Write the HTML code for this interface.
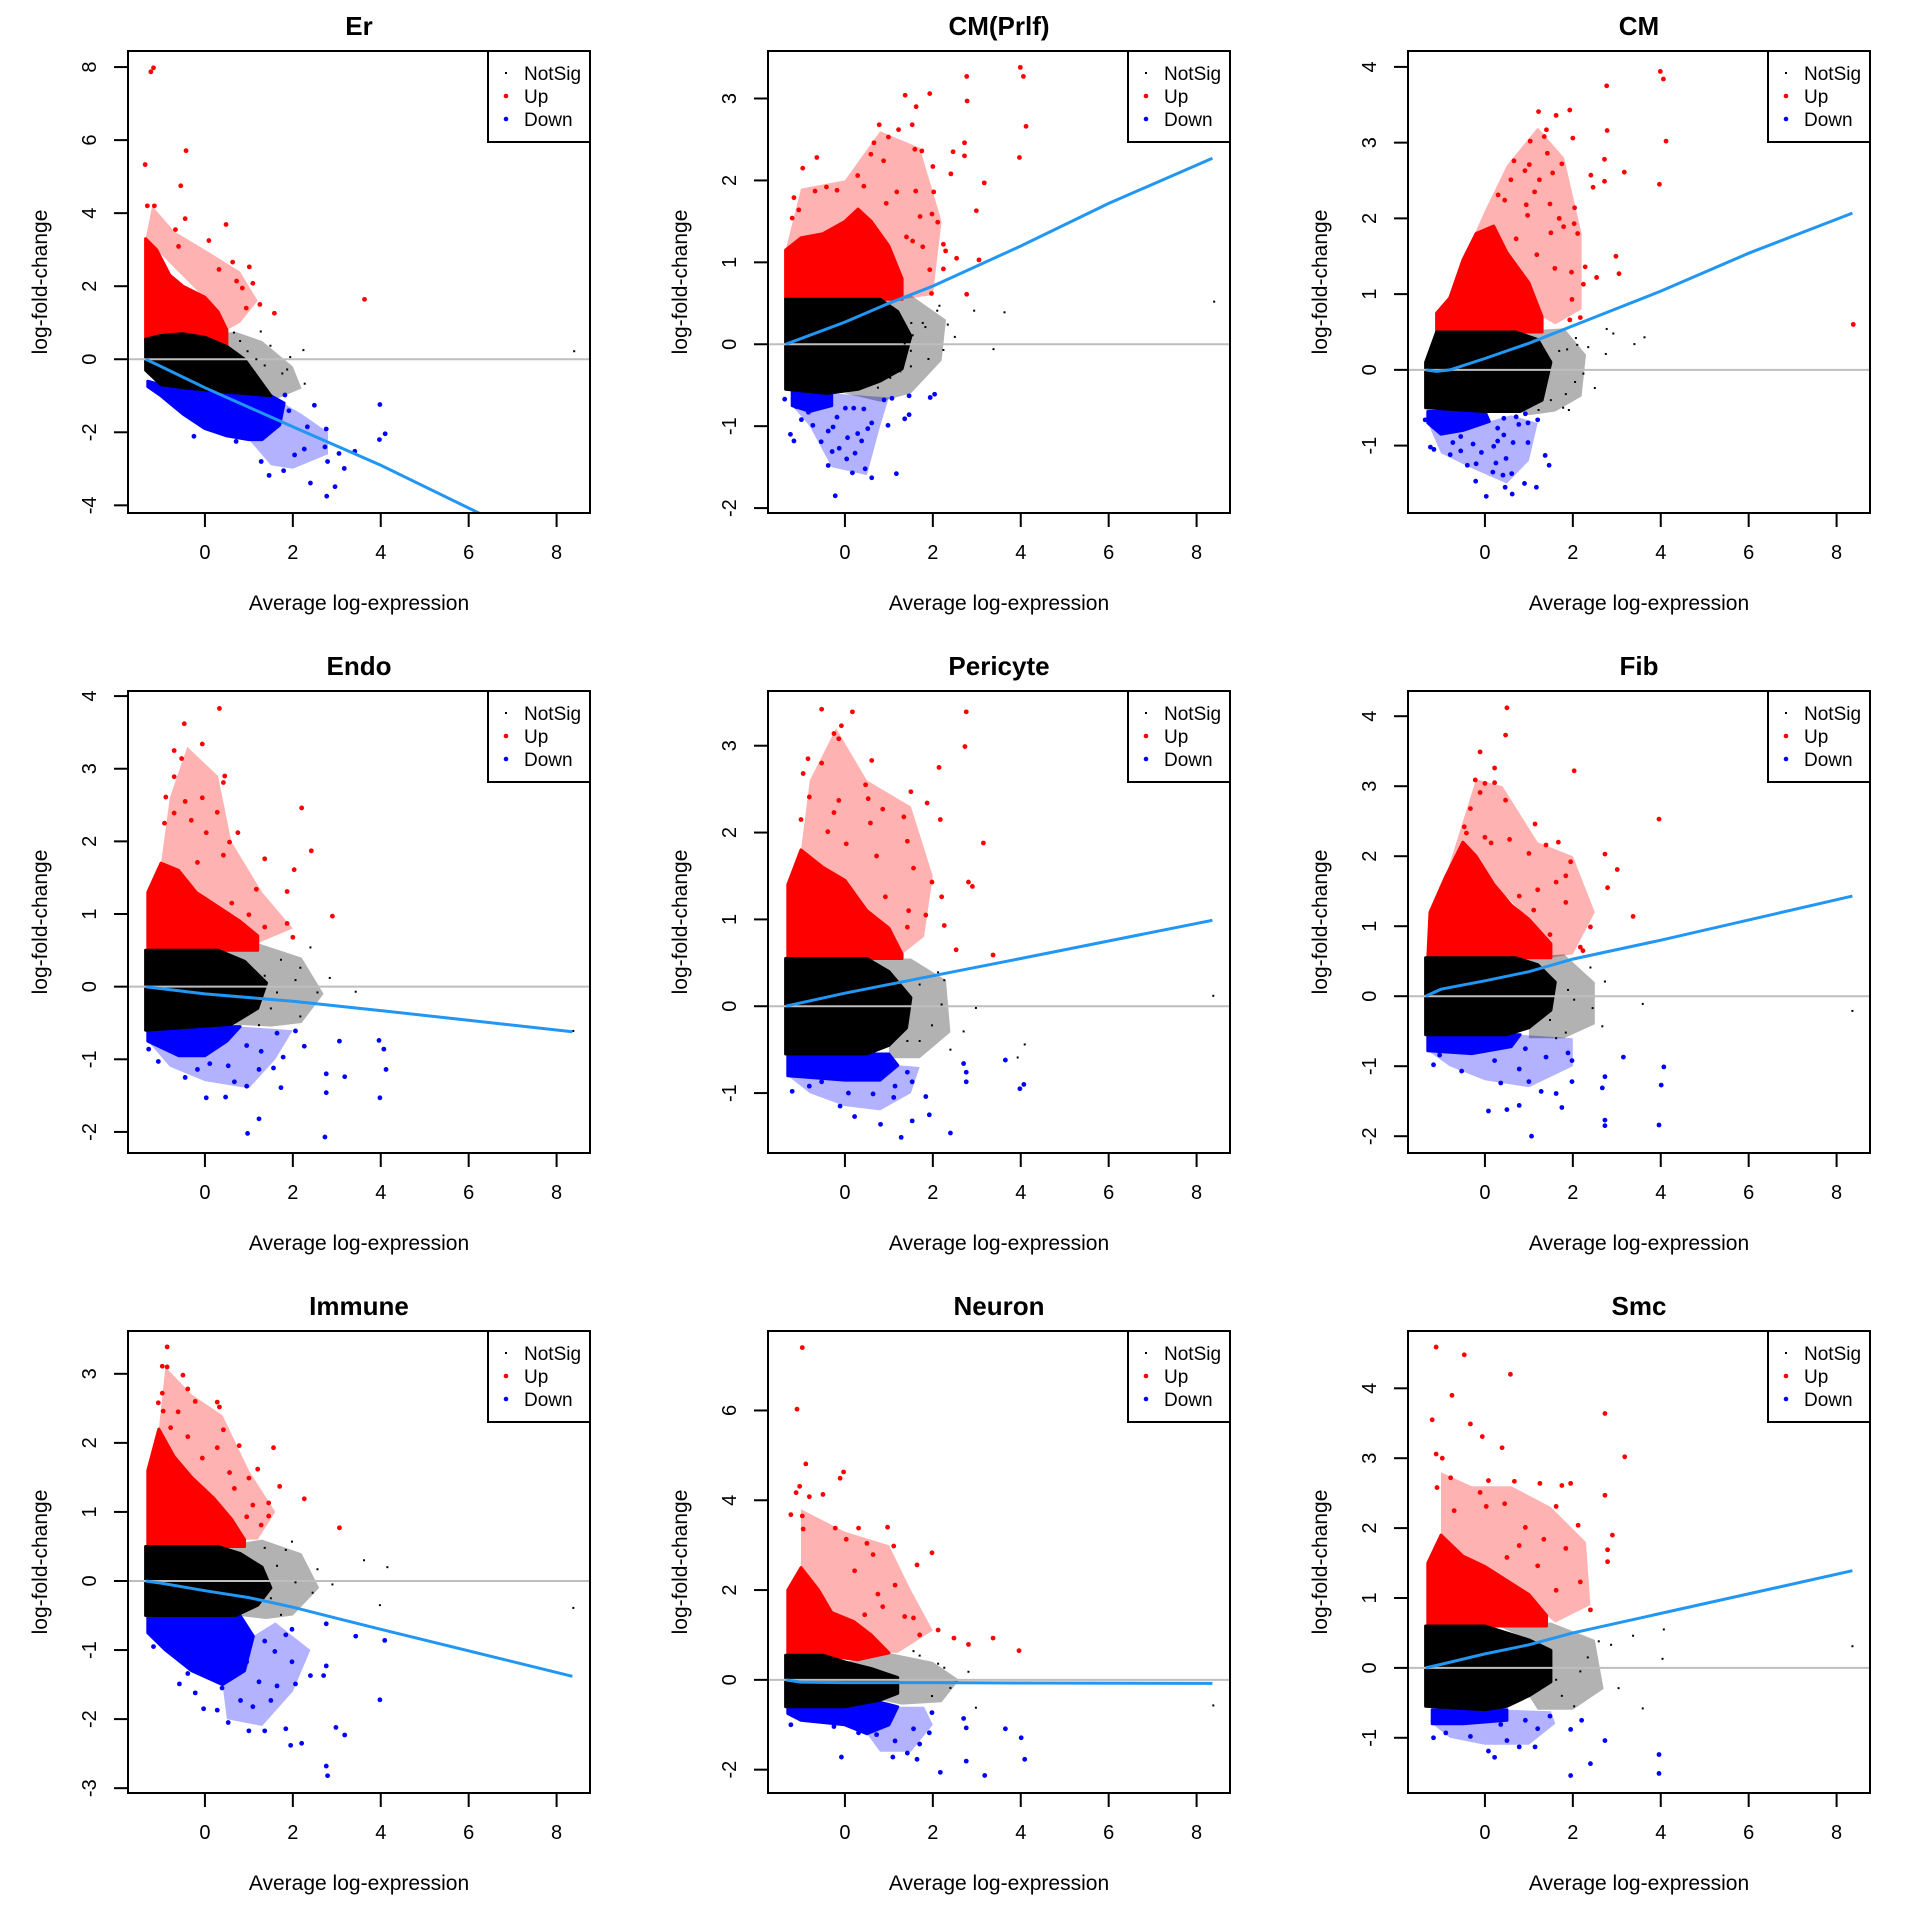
<!DOCTYPE html>
<html><head><meta charset="utf-8"><style>
html,body{margin:0;padding:0;background:#fff;}
svg{display:block;font-family:"Liberation Sans",Arial,sans-serif;}
</style></head><body>
<svg id="fig" width="1920" height="1920" viewBox="0 0 1920 1920" xmlns="http://www.w3.org/2000/svg"></svg>
<script>
// ---------- shared axis data ----------
const xTicks = [0, 2, 4, 6, 8];
const xDomain = [-1.75, 8.76];
const titles = ["Er","CM(Prlf)","CM","Endo","Pericyte","Fib","Immune","Neuron","Smc"];
const yDomains = [[-4.21,8.44],[-2.06,3.58],[-1.89,4.21],[-2.29,4.07],[-1.69,3.63],[-2.24,4.36],[-3.07,3.62],[-2.52,7.77],[-1.79,4.82]];
const yTicks = [[-4,-2,0,2,4,6,8],[-2,-1,0,1,2,3],[-1,0,1,2,3,4],[-2,-1,0,1,2,3,4],[-1,0,1,2,3],[-2,-1,0,1,2,3,4],[-3,-2,-1,0,1,2,3],[-2,0,2,4,6],[-1,0,1,2,3,4]];
const legendLabels = ["NotSig","Up","Down"];

// ---------- Er ----------
const erCore = [[-1.35,0.55],[-1,0.65],[-0.5,0.7],[0,0.6],[0.5,0.35],[0.9,0],[1.2,-0.5],[1.5,-1.0],[1,-0.95],[0.5,-0.9],[0,-0.84],[-0.5,-0.78],[-1,-0.7],[-1.35,-0.3]];
const erNotFringe = [[-0.2,0.65],[0.7,0.75],[1.3,0.5],[2.0,-0.2],[2.2,-0.8],[1.6,-1.1],[1.2,-0.5],[0.9,0],[0.5,0.35]];
const erUpEnv = [[-1.35,0.5],[-1.35,3.3],[-1.1,3.0],[-0.8,2.3],[-0.5,2.0],[0,1.7],[0.3,1.3],[0.5,0.8],[0.5,0.4],[0,0.6],[-0.5,0.7],[-1,0.65]];
const erUpFringe = [[-1.35,3.3],[-1.2,4.2],[-0.7,3.5],[0,3.0],[0.8,2.4],[1.2,1.6],[0.8,1.0],[0.5,0.8],[0.3,1.3]];
const erDownEnv = [[-1.3,-0.6],[-1,-0.7],[-0.5,-0.78],[0,-0.84],[0.5,-0.9],[1,-0.95],[1.5,-1.0],[1.8,-1.2],[1.7,-1.8],[1.3,-2.2],[1,-2.2],[0.5,-2.1],[0,-1.9],[-0.5,-1.5],[-1,-1.0],[-1.3,-0.75]];
const erDownFringe = [[1.5,-1.0],[2.2,-1.5],[2.8,-2.0],[2.8,-2.6],[2.0,-3.0],[1.5,-2.9],[1.0,-2.2],[1.7,-1.8]];
const erUp = [[-1.23,7.87],[-1.17,7.98],[-1.36,5.33],[-0.43,5.71],[-0.55,4.75],[-1.31,4.2],[-1.15,4.2],[-0.45,3.85],[0.48,3.69],[-0.67,3.55],[-0.6,3.09],[0.09,3.25],[0.63,2.66],[1.01,2.53],[0.72,2.14],[1.09,2.08],[0.85,1.95],[1.25,1.5],[1.58,1.26],[3.63,1.64],[0.94,1.4],[0.32,2.46]];
const erDown = [[2.49,-1.26],[3.98,-1.24],[4.1,-2.04],[3.97,-2.2],[3.41,-2.52],[3.17,-2.99],[3.05,-2.58],[2.79,-2.8],[2.76,-1.91],[2.73,-2.4],[2.77,-3.75],[2.96,-3.49],[2.4,-3.39],[1.79,-3.05],[1.46,-3.18],[1.28,-2.8],[2.04,-2.62],[2.33,-1.85],[1.91,-1.41],[1.82,-0.98],[1.54,-1.17],[2.26,-2.46],[-0.25,-2.11],[0.71,-2.25]];
const erNot = [[8.4,0.22],[2.24,0.25],[2.27,-0.67],[1.27,0.76],[1.49,0.37],[1.87,-0.28],[1.76,-0.39],[1.94,0.06],[1.36,-0.17],[1.12,-0.36],[0.97,0.22],[0.66,0.73],[0.8,0.5],[1.17,0],[0.43,0.22]];
const erTrend = [[-1.35,0],[-1,-0.2],[0,-0.78],[2,-1.85],[4,-2.9],[6.3,-4.25]];

// ---------- CM(Prlf) ----------
const prlfCore = [[-1.35,0.55],[0.8,0.55],[1.2,0.4],[1.5,0.1],[1.3,-0.3],[0.8,-0.45],[0.3,-0.55],[-0.4,-0.6],[-1.35,-0.55]];
const prlfNotFringe = [[0.5,0.55],[1.5,0.6],[2.3,0.3],[2.2,-0.2],[1.5,-0.6],[0.8,-0.7],[0,-0.6],[0.8,-0.45],[1.3,0]];
const prlfUpEnv = [[-1.35,0.55],[-1.35,1.15],[-1,1.3],[-0.5,1.35],[0,1.5],[0.3,1.65],[0.6,1.5],[1.0,1.2],[1.3,0.8],[1.3,0.55]];
const prlfUpFringe = [[-1.35,1.15],[-1.0,1.9],[0,2.0],[0.8,2.6],[1.7,2.4],[2.2,1.5],[2.0,0.6],[1.3,0.55],[1.3,0.8],[0.6,1.5],[0,1.5]];
const prlfDownEnv = [[-1.2,-0.58],[-0.3,-0.58],[-0.3,-0.75],[-0.8,-0.82],[-1.2,-0.75]];
const prlfDownFringe = [[-1.2,-0.75],[-0.8,-1.0],[-0.3,-1.5],[0.5,-1.6],[0.8,-1.0],[1.0,-0.65],[-0.3,-0.6],[-0.3,-0.75]];
const prlfUp = [[3.99,3.38],[4.06,3.27],[4.12,2.66],[3.97,2.28],[2.77,3.27],[2.78,2.97],[2.72,2.46],[2.72,2.3],[1.37,3.04],[1.93,3.06],[1.62,2.9],[0.78,2.68],[1.53,2.68],[1.22,2.62],[0.99,2.53],[0.66,2.46],[0.59,2.32],[-0.64,2.28],[-0.96,2.15],[0.88,2.24],[1.59,2.38],[1.75,2.36],[2.46,2.35],[2.41,2.08],[2.0,2.17],[3.17,1.97],[2.99,1.63],[3.05,1.03],[2.54,1.05],[2.77,0.61],[1.61,1.87],[2.02,1.86],[1.18,1.86],[0.29,2.06],[-0.42,1.92],[-0.68,1.87],[-1.16,1.79],[-1.05,1.64],[-1.2,1.54],[-0.18,1.88],[0.43,1.93],[0.94,1.72],[2.24,1.22],[2.29,1.14],[2.24,0.92],[1.97,0.62],[1.93,0.91],[2.11,1.49],[1.71,1.56],[1.98,1.59],[1.4,1.31],[1.77,1.19],[1.54,1.26]];
const prlfDown = [[-0.22,-1.85],[0.61,-1.63],[1.17,-1.58],[0.17,-1.57],[0.46,-1.52],[-0.38,-1.48],[-0.29,-1.31],[-0.13,-1.27],[0.04,-1.4],[0.23,-1.33],[0.38,-1.18],[0.06,-1.14],[0.29,-1.09],[0.52,-1.03],[0.61,-0.96],[0.98,-0.99],[1.36,-0.91],[1.46,-0.86],[1.46,-0.63],[1.94,-0.65],[2.04,-0.61],[1.07,-0.66],[0.89,-0.68],[-1.24,-1.1],[-1.16,-1.18],[-0.54,-1.19],[-0.38,-1.06],[-0.99,-0.92],[-0.73,-0.99],[-1.37,-0.67],[-1.11,-0.76],[-0.83,-0.83],[-0.18,-0.89],[0.01,-0.78],[0.2,-0.78],[0.43,-0.79],[-0.27,-1.01]];
const prlfNot = [[8.4,0.52],[3.63,0.39],[2.94,0.41],[3.38,-0.06],[2.24,-0.07],[1.9,-0.18],[2.34,0.24],[2.5,0.09],[2.1,0.41],[2.15,0.47],[1.83,0.21],[1.51,0.26],[1.5,-0.08],[1.36,0.01],[1.17,-0.13],[1.26,-0.33],[1.03,-0.41],[1.5,-0.27],[1.54,0.11],[0.75,-0.53],[0.47,-0.48],[0.85,0.09],[1.03,0.21],[1.77,0.26]];
const prlfTrend = [[-1.35,0],[0,0.27],[1,0.5],[2,0.71],[4,1.2],[6,1.72],[8.36,2.27]];

// ---------- CM ----------
const cmCore = [[-1.35,0.1],[-1.1,0.5],[0.7,0.5],[1.2,0.4],[1.5,0.1],[1.3,-0.4],[0.8,-0.55],[0,-0.55],[-1.35,-0.5]];
const cmNotFringe = [[0.5,0.5],[1.8,0.55],[2.3,0.2],[2.2,-0.35],[1.6,-0.55],[1,-0.6],[0.8,-0.55],[1.3,-0.4],[1.5,0.1],[1.2,0.4]];
const cmUpEnv = [[-1.1,0.5],[-1.1,0.75],[-0.8,0.95],[-0.5,1.45],[-0.2,1.8],[0.2,1.9],[0.5,1.55],[1.0,1.15],[1.3,0.7],[1.3,0.5]];
const cmUpFringe = [[-0.5,1.45],[0,2.1],[0.5,2.7],[1.2,3.2],[1.8,2.8],[2.2,1.8],[2.2,0.8],[1.6,0.6],[1.3,0.7],[1.0,1.15],[0.5,1.55]];
const cmDownEnv = [[-1.3,-0.55],[0,-0.55],[0.1,-0.68],[-0.5,-0.8],[-1.0,-0.85],[-1.3,-0.7]];
const cmDownFringe = [[-1.3,-0.7],[-1,-1.1],[-0.3,-1.3],[0.5,-1.5],[1.0,-1.2],[1.2,-0.7],[0.6,-0.6],[0.1,-0.68]];
const cmUp = [[3.99,3.94],[4.06,3.84],[4.12,3.02],[3.97,2.45],[2.77,3.75],[2.78,3.16],[2.72,2.78],[2.72,2.49],[1.22,3.41],[1.62,3.36],[1.93,3.43],[1.4,3.17],[1.35,3.08],[1.03,3.02],[2.0,3.06],[1.42,2.86],[1.75,2.72],[0.66,2.76],[1.01,2.71],[0.91,2.63],[1.54,2.6],[2.41,2.57],[3.17,2.61],[2.46,2.41],[1.24,2.51],[1.13,2.35],[0.59,2.51],[0.3,2.31],[0.45,2.24],[0.94,2.18],[1.48,2.19],[2.04,2.14],[0.97,2.04],[1.69,2.0],[2.03,1.93],[2.11,1.8],[1.79,1.89],[2.98,1.5],[3.05,1.27],[2.54,1.22],[2.28,1.36],[2.24,1.13],[1.97,1.29],[1.98,0.93],[1.93,0.66],[2.17,0.69],[8.38,0.6],[1.5,1.81],[0.71,1.73],[1.18,1.52],[1.59,1.34]];
const cmDown = [[0.03,-1.67],[0.62,-1.64],[0.46,-1.55],[1.17,-1.55],[0.9,-1.5],[-0.21,-1.47],[0.18,-1.35],[0.41,-1.39],[0.61,-1.37],[-0.2,-1.24],[-0.4,-1.26],[0.25,-1.23],[0.48,-1.17],[1.46,-1.26],[1.37,-1.13],[-0.79,-1.12],[-0.55,-1.07],[-1.24,-1.02],[-1.16,-1.05],[-0.08,-1.09],[0.2,-1.01],[-0.27,-0.98],[0.98,-0.96],[0.64,-0.96],[0.29,-0.94],[0.43,-0.86],[0.29,-0.77],[0.77,-0.72],[0.98,-0.7],[1.2,-0.66],[0.92,-0.58],[0.71,-0.62],[0.43,-0.64],[-1.36,-0.66],[-0.99,-0.82],[-0.73,-0.96],[-0.55,-0.88]];
const cmNot = [[3.4,0.34],[3.63,0.43],[2.77,0.54],[2.92,0.48],[2.75,0.21],[2.5,-0.24],[2.24,-0.05],[2.35,0.3],[2.1,0.33],[1.91,-0.53],[1.78,-0.5],[1.84,-0.32],[2.05,-0.16],[1.5,-0.4],[1.31,-0.13],[1.17,-0.05],[1.5,0.11],[1.69,0.25],[1.22,-0.53],[1.03,-0.32],[0.85,-0.45],[1.87,0.27],[2.07,0.42]];
const cmTrend = [[-1.35,0],[-1.1,-0.02],[-0.8,0],[0,0.15],[1,0.35],[2,0.58],[4,1.04],[6,1.54],[8.36,2.07]];

// ---------- Endo ----------
const endoCore = [[-1.35,0.5],[0.3,0.5],[0.9,0.35],[1.4,0.05],[1.2,-0.3],[0.6,-0.52],[-1.35,-0.6]];
const endoNotFringe = [[0.3,0.5],[1.2,0.6],[2.2,0.4],[2.7,-0.1],[2.2,-0.5],[1.5,-0.55],[0.6,-0.52],[1.2,-0.3],[1.4,0.05]];
const endoUpEnv = [[-1.3,0.5],[-1.3,1.3],[-1.0,1.7],[-0.6,1.6],[-0.2,1.3],[0.3,1.1],[0.8,0.9],[1.2,0.7],[1.2,0.5]];
const endoUpFringe = [[-1.0,1.7],[-0.8,2.6],[-0.4,3.3],[0.3,2.9],[0.6,2.0],[1.3,1.3],[2.0,0.8],[1.2,0.6],[0.8,0.9],[0.3,1.1]];
const endoDownEnv = [[-1.3,-0.55],[0.8,-0.55],[0.5,-0.75],[0,-0.95],[-0.6,-0.95],[-1.3,-0.75]];
const endoDownFringe = [[-1.3,-0.75],[-0.8,-1.1],[0,-1.3],[1.0,-1.4],[1.6,-1.0],[2.0,-0.6],[0.8,-0.55],[0.5,-0.75]];
const endoUp = [[0.33,3.83],[-0.47,3.62],[-0.06,3.34],[-0.7,3.25],[-0.53,3.14],[-0.7,2.89],[0.45,2.9],[0.42,2.81],[-0.89,2.61],[-0.45,2.55],[-0.06,2.6],[-0.7,2.39],[0.28,2.4],[2.2,2.46],[-0.31,2.29],[-0.92,2.25],[0.75,2.12],[0.03,2.12],[0.56,1.99],[2.42,1.87],[1.36,1.76],[2.03,1.61],[0.42,1.81],[-0.17,1.71],[1.17,1.34],[1.87,1.31],[0.61,1.15],[2.9,0.97],[1.87,0.87],[2.0,0.68],[1.36,0.82],[1.0,0.99],[0.95,0.76]];
const endoDown = [[2.73,-2.07],[0.97,-2.02],[1.23,-1.82],[0.03,-1.53],[0.47,-1.52],[3.98,-1.53],[2.76,-1.46],[4.12,-1.14],[3.18,-1.24],[2.76,-1.2],[4.07,-0.86],[3.96,-0.74],[3.06,-0.75],[2.26,-0.82],[1.73,-1.39],[0.95,-1.37],[0.67,-1.31],[-0.45,-1.25],[1.56,-1.12],[1.23,-1.14],[1.78,-0.97],[0.53,-1.09],[-0.17,-1.14],[0.11,-1.06],[1.28,-0.89],[0.95,-0.81],[1.64,-0.64],[2.06,-0.61],[-1.28,-0.86],[-1.06,-1.03]];
const endoNot = [[3.43,-0.07],[2.84,0.12],[2.56,-0.08],[2.4,0.54],[2.17,0.26],[2.06,0.09],[1.78,-0.19],[2.17,-0.41],[1.5,-0.3],[1.64,-0.08],[1.36,0.15],[1.73,0.37],[1.23,-0.53],[8.38,-0.61]];
const endoTrend = [[-1.35,0],[0,-0.1],[2,-0.2],[4,-0.33],[8.36,-0.62]];

// ---------- Pericyte ----------
const periCore = [[-1.35,0.55],[0.5,0.55],[1.0,0.4],[1.5,0.1],[1.4,-0.25],[1.0,-0.45],[0.5,-0.55],[-1.35,-0.55]];
const periNotFringe = [[0.5,0.55],[1.5,0.55],[2.3,0.3],[2.4,-0.3],[1.7,-0.6],[1.0,-0.6],[1.0,-0.45],[1.4,-0.25],[1.5,0.1]];
const periUpEnv = [[-1.3,0.55],[-1.3,1.4],[-1.0,1.8],[-0.5,1.6],[0,1.45],[0.5,1.1],[1.0,0.9],[1.3,0.6],[1.3,0.55]];
const periUpFringe = [[-1.0,1.8],[-0.8,2.6],[-0.2,3.2],[0.5,2.6],[1.5,2.3],[2.0,1.5],[1.8,0.8],[1.3,0.6],[1.0,0.9],[0.5,1.1],[0,1.45],[-0.5,1.6]];
const periDownEnv = [[-1.3,-0.55],[1.0,-0.55],[1.2,-0.68],[0.8,-0.85],[0,-0.85],[-1.3,-0.8]];
const periDownFringe = [[-1.3,-0.8],[-0.8,-1.0],[0,-1.15],[0.8,-1.2],[1.5,-1.0],[1.7,-0.7],[1.2,-0.68],[0.8,-0.85]];
const periUp = [[-0.53,3.42],[0.17,3.39],[2.76,3.39],[-0.08,3.23],[-0.25,3.14],[-0.14,3.08],[2.73,2.99],[-0.84,2.85],[-0.53,2.8],[0.61,2.83],[2.14,2.75],[-0.95,2.68],[0.47,2.55],[1.5,2.47],[-0.81,2.41],[0.53,2.39],[-0.14,2.37],[1.87,2.34],[0.86,2.27],[-0.25,2.23],[-1.0,2.15],[2.17,2.15],[0.58,2.11],[1.34,2.18],[-0.39,2.01],[3.15,1.88],[1.42,1.9],[0.03,1.87],[0.72,1.73],[1.56,1.59],[1.98,1.43],[2.81,1.43],[2.9,1.38],[0.92,1.26],[2.2,1.26],[1.45,1.1],[2.26,0.93],[2.53,0.65],[3.37,0.59],[1.84,1.05],[1.42,0.91],[0.31,1.0],[0.86,0.72]];
const periDown = [[1.28,-1.51],[2.4,-1.46],[0.81,-1.36],[1.53,-1.32],[0.22,-1.27],[1.92,-1.25],[-0.11,-1.15],[0.08,-1.0],[0.64,-1.01],[1.11,-1.05],[1.84,-1.04],[-1.2,-0.98],[-0.81,-0.92],[3.98,-0.95],[4.07,-0.9],[3.65,-0.62],[2.76,-0.87],[2.76,-0.76],[2.7,-0.66],[1.53,-0.87],[1.14,-0.92],[1.42,-0.76],[0.92,-0.71],[0.45,-0.83],[-0.53,-0.87],[0.03,-0.76]];
const periNot = [[8.38,0.12],[4.09,-0.44],[3.93,-0.59],[2.98,-0.02],[2.2,0.02],[2.7,-0.29],[1.98,-0.22],[2.4,-0.5],[1.7,-0.4],[2.12,0.39],[1.7,0.25],[1.42,-0.4],[2.26,0.3]];
const periTrend = [[-1.35,0],[0,0.15],[2,0.35],[4,0.55],[8.36,0.99]];

// ---------- Fib ----------
const fibCore = [[-1.35,0.55],[0.7,0.55],[1.2,0.45],[1.6,0.2],[1.5,-0.2],[1.0,-0.45],[0.5,-0.55],[-1.35,-0.55]];
const fibNotFringe = [[0.7,0.55],[1.8,0.6],[2.5,0.2],[2.5,-0.4],[1.8,-0.6],[1.0,-0.6],[1.0,-0.45],[1.5,-0.2],[1.6,0.2]];
const fibUpEnv = [[-1.3,0.55],[-1.25,1.2],[-0.9,1.7],[-0.5,2.2],[-0.2,2.0],[0.2,1.6],[0.6,1.3],[1.0,1.1],[1.5,0.75],[1.5,0.55]];
const fibUpFringe = [[-0.9,1.7],[-0.2,3.1],[0.4,3.0],[1.2,2.2],[2.0,2.0],[2.5,1.2],[2.0,0.6],[1.5,0.55],[1.0,1.1],[0.2,1.6],[-0.2,2.0]];
const fibDownEnv = [[-1.3,-0.55],[0.8,-0.55],[0.6,-0.72],[-0.3,-0.82],[-1.3,-0.78]];
const fibDownFringe = [[-1.3,-0.78],[-0.8,-1.0],[0,-1.2],[1.0,-1.3],[2.0,-1.0],[2.0,-0.6],[0.8,-0.55],[0.6,-0.72]];
const fibUp = [[0.5,4.12],[0.47,3.73],[-0.11,3.49],[0.22,3.26],[2.03,3.22],[-0.22,3.09],[0,3.04],[0.22,3.05],[-0.11,2.91],[0.47,2.8],[-0.33,2.68],[3.96,2.53],[1.14,2.46],[-0.47,2.42],[-0.42,2.33],[0,2.27],[0.56,2.24],[1.67,2.2],[1.39,2.16],[0.14,2.19],[2.73,2.03],[1.0,2.04],[1.95,1.92],[3.01,1.81],[1.84,1.72],[1.62,1.63],[2.79,1.55],[1.2,1.52],[0.78,1.43],[1.84,1.34],[3.37,1.14],[2.4,0.99],[2.17,0.7],[2.23,0.65],[1.11,1.23],[0.5,1.11],[1.48,0.88],[0.92,0.76]];
const fibDown = [[1.06,-2.0],[0.08,-1.64],[0.5,-1.62],[0.78,-1.56],[1.75,-1.59],[2.73,-1.77],[2.73,-1.85],[3.96,-1.84],[4.01,-1.27],[4.07,-1.01],[2.73,-1.15],[2.67,-1.31],[3.15,-0.87],[1.98,-1.22],[1.62,-1.39],[1.28,-1.36],[1.0,-1.22],[0.36,-1.24],[-0.53,-1.07],[-1.17,-0.98],[1.98,-0.92],[1.89,-0.81],[1.39,-0.87],[0.78,-1.04],[0.22,-0.92],[0.92,-0.75],[-1.03,-0.84]];
const fibNot = [[8.36,-0.21],[3.59,-0.11],[2.67,-0.43],[2.73,0.21],[2.4,0.41],[2.45,-0.17],[2.03,-0.05],[1.84,-0.52],[1.62,-0.6],[1.89,0.09],[1.48,-0.34]];
const fibTrend = [[-1.35,0],[-1,0.1],[0,0.22],[1,0.35],[2,0.53],[4,0.8],[8.36,1.43]];

// ---------- Immune ----------
const immCore = [[-1.35,0.5],[0.3,0.5],[0.8,0.4],[1.3,0.2],[1.5,-0.1],[1.2,-0.35],[0.7,-0.5],[-1.35,-0.5]];
const immNotFringe = [[0.3,0.5],[1.3,0.6],[2.2,0.4],[2.6,-0.1],[2.0,-0.5],[1.4,-0.55],[0.7,-0.5],[1.2,-0.35],[1.5,-0.1]];
const immUpEnv = [[-1.3,0.5],[-1.3,1.6],[-1.05,2.2],[-0.7,1.8],[-0.3,1.5],[0.2,1.2],[0.6,0.9],[0.9,0.6],[0.9,0.5]];
const immUpFringe = [[-1.05,2.2],[-0.9,3.1],[-0.3,2.7],[0.4,2.4],[1.0,1.6],[1.6,1.0],[1.2,0.6],[0.9,0.6],[0.6,0.9],[0.2,1.2],[-0.3,1.5],[-0.7,1.8]];
const immDownEnv = [[-1.3,-0.5],[0.8,-0.5],[1.1,-0.8],[0.9,-1.3],[0.4,-1.5],[-0.3,-1.3],[-0.9,-1.0],[-1.3,-0.75]];
const immDownFringe = [[0.4,-1.5],[0.5,-2.0],[1.3,-2.1],[2.0,-1.6],[2.4,-1.0],[1.6,-0.6],[1.1,-0.8],[0.9,-1.3]];
const immUp = [[-0.86,3.39],[-0.97,3.11],[-0.86,3.1],[-0.5,2.98],[-0.39,2.78],[-0.97,2.72],[-1.06,2.58],[-0.22,2.6],[0.28,2.59],[0.33,2.52],[-0.61,2.45],[-0.95,2.46],[0.42,2.19],[-0.78,2.22],[-0.39,2.09],[0.78,1.96],[0.28,1.93],[1.56,1.93],[-0.06,1.78],[1.2,1.62],[0.56,1.57],[1.0,1.49],[0.67,1.34],[1.7,1.37],[2.26,1.19],[1.45,1.13],[1.09,1.1],[3.06,0.77],[1.45,0.94],[1.28,0.81],[0.95,0.93]];
const immDown = [[2.79,-2.82],[2.76,-2.68],[3.18,-2.23],[2.98,-2.12],[1.95,-2.38],[2.2,-2.35],[1.84,-2.14],[1.36,-2.17],[1.0,-2.17],[0.53,-2.05],[-0.03,-1.85],[0.28,-1.87],[-0.22,-1.62],[3.98,-1.72],[2.76,-1.23],[2.7,-1.37],[2.4,-1.37],[1.98,-1.17],[2.06,-1.49],[1.64,-1.52],[1.5,-1.73],[1.09,-1.82],[0.81,-1.73],[1.23,-1.46],[0.39,-1.55],[-0.39,-1.34],[-0.58,-1.49],[1.84,-0.78],[1.98,-0.7],[2.76,-0.62],[3.43,-0.8],[4.09,-0.86],[1.36,-0.87],[1.59,-1.02],[0.95,-1.17],[-1.17,-0.95]];
const immNot = [[8.38,-0.39],[3.62,0.3],[4.15,0.2],[3.98,-0.35],[2.9,-0.05],[2.56,0.17],[2.45,-0.17],[2.06,-0.02],[1.98,0.57],[1.84,0.45],[1.64,0.22],[1.5,-0.25],[1.73,-0.49],[1.28,-0.14],[1.36,0.48]];
const immTrend = [[-1.35,0],[-1,-0.03],[0,-0.14],[1,-0.24],[2,-0.38],[3,-0.54],[4,-0.7],[8.36,-1.38]];

// ---------- Neuron ----------
const neuCore = [[-1.35,0.55],[-0.5,0.55],[0,0.4],[0.6,0.25],[1.2,0.05],[1.2,-0.3],[0.8,-0.45],[0,-0.6],[-1.35,-0.6]];
const neuNotFringe = [[0,0.4],[1.0,0.6],[2.0,0.4],[2.6,0],[2.2,-0.5],[1.3,-0.55],[0.8,-0.45],[1.2,-0.3],[1.2,0.05]];
const neuUpEnv = [[-1.3,0.5],[-1.3,2.0],[-1.0,2.5],[-0.6,2.0],[-0.3,1.5],[0.2,1.3],[0.6,1.0],[1,0.6],[0.3,0.45],[-0.5,0.55]];
const neuUpFringe = [[-1.0,2.5],[-1.0,3.8],[0,3.3],[1.0,3.0],[1.5,2.0],[2.0,1.1],[1.2,0.6],[1,0.6],[0.6,1.0],[0.2,1.3],[-0.3,1.5],[-0.6,2.0]];
const neuDownEnv = [[-1.3,-0.6],[0,-0.6],[0.8,-0.5],[1.2,-0.6],[1,-1.0],[0.5,-1.2],[0,-1.0],[-1.0,-0.9],[-1.3,-0.75]];
const neuDownFringe = [[0.5,-1.2],[0.8,-1.6],[1.5,-1.6],[2.0,-1.0],[1.8,-0.6],[1.2,-0.6],[1,-1.0]];
const neuUp = [[-0.97,7.4],[-1.09,6.03],[-0.89,4.81],[-0.03,4.63],[-0.11,4.49],[-1.03,4.31],[-1.11,4.17],[-0.5,4.13],[-0.81,4.08],[-1.23,3.68],[-0.97,3.65],[-0.95,3.36],[-0.22,3.38],[0.31,3.38],[0.97,3.4],[0.03,3.13],[1.11,2.98],[0.64,2.79],[1.98,2.83],[0.5,3.04],[1.64,2.56],[0.22,2.43],[1.14,2.11],[0.75,1.91],[1.56,1.38],[2.48,0.93],[3.37,0.93],[2.81,0.79],[3.96,0.65],[2.12,1.11],[1.36,1.41],[0.86,1.63],[0.45,1.45],[1.7,1.0]];
const neuDown = [[3.18,-2.13],[2.17,-2.06],[2.76,-1.81],[4.09,-1.77],[4.01,-1.29],[3.65,-1.09],[2.76,-1.07],[2.7,-0.86],[1.64,-1.77],[1.42,-1.63],[1.09,-1.72],[-0.08,-1.72],[1.7,-1.43],[1.92,-1.18],[1.56,-1.09],[1.14,-1.36],[0.72,-1.22],[0.31,-1.18],[-0.25,-1.04],[1.98,-0.73],[-1.23,-1.0]];
const neuNot = [[8.38,-0.57],[2.98,-0.62],[2.26,0.27],[2.12,0.36],[2.81,0.18],[2.4,-0.18],[1.98,-0.36],[1.7,0.54],[1.56,0.64],[2.53,-0.05]];
const neuTrend = [[-1.35,0],[-1,-0.05],[0,-0.06],[2,-0.06],[4,-0.07],[8.36,-0.08]];

// ---------- Smc ----------
const smcCore = [[-1.35,0.6],[0,0.6],[0.5,0.5],[1,0.4],[1.5,0.25],[1.5,-0.2],[1,-0.4],[0.5,-0.55],[0,-0.6],[-1.35,-0.55]];
const smcNotFringe = [[0.3,0.6],[1.5,0.65],[2.5,0.4],[2.7,-0.3],[2.0,-0.6],[1.2,-0.6],[1,-0.4],[1.5,-0.2],[1.5,0.25]];
const smcUpEnv = [[-1.3,0.6],[-1.3,1.5],[-1.0,1.9],[-0.5,1.6],[0,1.45],[0.5,1.25],[1,1.05],[1.4,0.75],[1.4,0.6]];
const smcUpFringe = [[-1.0,1.9],[-1.0,2.8],[-0.3,2.6],[0.6,2.6],[1.5,2.3],[2.3,1.8],[2.4,0.9],[1.6,0.65],[1.4,0.75],[1,1.05],[0.5,1.25],[0,1.45],[-0.5,1.6]];
const smcDownEnv = [[-1.2,-0.6],[0.5,-0.6],[0.5,-0.75],[-0.5,-0.8],[-1.2,-0.8]];
const smcDownFringe = [[-1.2,-0.8],[-0.8,-1.0],[0,-1.1],[1.0,-1.1],[1.6,-0.8],[1.5,-0.62],[0.5,-0.6],[0.5,-0.75]];
const smcUp = [[-1.11,4.59],[-0.47,4.48],[0.58,4.2],[-0.75,3.9],[2.73,3.64],[-1.2,3.55],[-0.33,3.49],[-0.06,3.31],[0.39,3.15],[3.18,3.02],[-1.11,3.06],[-0.97,3.0],[-0.78,2.72],[0.08,2.68],[0.67,2.67],[-1.09,2.58],[1.75,2.61],[1.25,2.64],[1.95,2.64],[-0.11,2.51],[2.73,2.47],[0.45,2.35],[0.03,2.31],[-0.7,2.25],[1.62,2.31],[2.12,2.04],[2.9,1.9],[0.92,2.01],[1.34,1.84],[2.79,1.69],[1.84,1.71],[2.79,1.52],[0.78,1.75],[2.17,1.23],[2.4,0.83],[1.62,1.11],[1.2,1.46],[0.5,1.58]];
const smcDown = [[1.95,-1.54],[3.96,-1.51],[3.96,-1.24],[2.4,-1.37],[2.73,-1.04],[1.95,-0.88],[2.2,-0.75],[0.22,-1.28],[0.08,-1.19],[0.78,-1.13],[1.14,-1.13],[0.5,-1.04],[-0.33,-0.98],[-1.17,-1.0],[1.2,-0.87],[1.48,-0.69],[0.92,-0.75],[0.36,-0.81],[-0.89,-0.93]];
const smcNot = [[8.36,0.31],[4.07,0.55],[4.04,0.13],[3.59,-0.58],[3.04,-0.29],[3.37,0.46],[2.87,0.33],[2.59,0.38],[2.34,0.15],[2.03,-0.55],[1.75,-0.4],[1.62,-0.17],[2.17,-0.05]];
const smcTrend = [[-1.35,0],[-1,0.05],[0,0.2],[1,0.33],[2,0.5],[4,0.78],[8.36,1.39]];

const panelCores = [erCore,prlfCore,cmCore,endoCore,periCore,fibCore,immCore,neuCore,smcCore];
const panelNotFringes = [erNotFringe,prlfNotFringe,cmNotFringe,endoNotFringe,periNotFringe,fibNotFringe,immNotFringe,neuNotFringe,smcNotFringe];
const panelUpEnvs = [erUpEnv,prlfUpEnv,cmUpEnv,endoUpEnv,periUpEnv,fibUpEnv,immUpEnv,neuUpEnv,smcUpEnv];
const panelUpFringes = [erUpFringe,prlfUpFringe,cmUpFringe,endoUpFringe,periUpFringe,fibUpFringe,immUpFringe,neuUpFringe,smcUpFringe];
const panelDownEnvs = [erDownEnv,prlfDownEnv,cmDownEnv,endoDownEnv,periDownEnv,fibDownEnv,immDownEnv,neuDownEnv,smcDownEnv];
const panelDownFringes = [erDownFringe,prlfDownFringe,cmDownFringe,endoDownFringe,periDownFringe,fibDownFringe,immDownFringe,neuDownFringe,smcDownFringe];
const panelUps = [erUp,prlfUp,cmUp,endoUp,periUp,fibUp,immUp,neuUp,smcUp];
const panelDowns = [erDown,prlfDown,cmDown,endoDown,periDown,fibDown,immDown,neuDown,smcDown];
const panelNots = [erNot,prlfNot,cmNot,endoNot,periNot,fibNot,immNot,neuNot,smcNot];
const panelTrends = [erTrend,prlfTrend,cmTrend,endoTrend,periTrend,fibTrend,immTrend,neuTrend,smcTrend];

const NS = "http://www.w3.org/2000/svg";
const svg = document.getElementById('fig');
function mk(tag, attrs, parent){
  const e = document.createElementNS(NS, tag);
  for (const k in attrs) e.setAttribute(k, attrs[k]);
  parent.appendChild(e);
  return e;
}
const BL=128, BR=590, BT=51, BB=513;
const LGX=488;
const slugs = ["er","cm-prlf","cm","endo","pericyte","fib","immune","neuron","smc"];

for (let p=0; p<9; p++){
  const ox = (p%3)*640, oy = Math.floor(p/3)*640;
  const yd = yDomains[p];
  const sx = v => ox + BL + (v - xDomain[0])/(xDomain[1]-xDomain[0])*(BR-BL);
  const sy = v => oy + BB - (v - yd[0])/(yd[1]-yd[0])*(BB-BT);
  const g = mk('g', {}, svg);
  
  

  const cp = mk('clipPath', {id:'clip'+p}, g);
  mk('rect', {x:ox+BL, y:oy+BT, width:BR-BL, height:BB-BT}, cp);
  const marks = mk('g', {'clip-path':'url(#clip'+p+')'}, g);
  
  

  const poly = (pts, fill, op, name) => {
    const e = mk('polygon', {points: pts.map(d => sx(d[0]).toFixed(1)+','+sy(d[1]).toFixed(1)).join(' '), fill: fill, 'fill-opacity': op, stroke: op<1 ? 'none' : fill, 'stroke-width': 3, 'stroke-linejoin':'round'}, marks);
    
    
  };
  poly(panelUpFringes[p], '#ff0000', 0.3, 'up-sparse-cloud');
  poly(panelDownFringes[p], '#0000ff', 0.3, 'down-sparse-cloud');
  poly(panelNotFringes[p], '#000000', 0.3, 'notsig-sparse-cloud');
  poly(panelUpEnvs[p], '#ff0000', 1, 'up-dense-cloud');
  poly(panelDownEnvs[p], '#0000ff', 1, 'down-dense-cloud');
  poly(panelCores[p], '#000000', 1, 'notsig-dense-cloud');

  const zl = mk('line', {x1:ox+BL, x2:ox+BR, y1:sy(0), y2:sy(0), stroke:'#bebebe', 'stroke-width':2}, marks);
  
  

  panelNots[p].forEach(d => {
    const e = mk('rect', {x:sx(d[0])-1, y:sy(d[1])-1, width:2, height:2, fill:'#000'}, marks);
    
    
  });
  panelUps[p].forEach(d => {
    const e = mk('circle', {cx:sx(d[0]), cy:sy(d[1]), r:2.4, fill:'#ff0000'}, marks);
    
    
  });
  panelDowns[p].forEach(d => {
    const e = mk('circle', {cx:sx(d[0]), cy:sy(d[1]), r:2.4, fill:'#0000ff'}, marks);
    
    
  });
  const tl = mk('polyline', {points: panelTrends[p].map(d => sx(d[0]).toFixed(1)+','+sy(d[1]).toFixed(1)).join(' '), fill:'none', stroke:'#2196f3', 'stroke-width':3}, marks);
  
  

  const box = mk('rect', {x:ox+BL, y:oy+BT, width:BR-BL, height:BB-BT, fill:'none', stroke:'#000', 'stroke-width':2}, g);
  
  

  const xa = mk('g', {}, g);
  
  
  mk('line', {x1:sx(xTicks[0]), x2:sx(xTicks[xTicks.length-1]), y1:oy+BB, y2:oy+BB, stroke:'#000','stroke-width':2}, xa);
  xTicks.forEach(t => {
    mk('line', {x1:sx(t), x2:sx(t), y1:oy+BB, y2:oy+BB+14, stroke:'#000','stroke-width':2}, xa);
    const tx = mk('text', {x:sx(t), y:oy+559, 'text-anchor':'middle', 'font-size':20}, xa);
    tx.textContent = t;
    
    
  });
  const xl = mk('text', {x:ox+(BL+BR)/2, y:oy+610, 'text-anchor':'middle', 'font-size':21}, g);
  xl.textContent = 'Average log-expression';
  
  

  const ya = mk('g', {}, g);
  
  
  const yt = yTicks[p];
  mk('line', {x1:ox+BL, x2:ox+BL, y1:sy(yt[0]), y2:sy(yt[yt.length-1]), stroke:'#000','stroke-width':2}, ya);
  yt.forEach(t => {
    mk('line', {x1:ox+BL, x2:ox+BL-14, y1:sy(t), y2:sy(t), stroke:'#000','stroke-width':2}, ya);
    const x0 = ox+96, y0 = sy(t);
    const tx = mk('text', {x:x0, y:y0, 'text-anchor':'middle', 'font-size':20, transform:'rotate(-90 '+x0+' '+y0+')'}, ya);
    tx.textContent = t;
    
    
  });
  const yx = ox+47, yy = oy+282;
  const yl = mk('text', {x:yx, y:yy, 'text-anchor':'middle', 'font-size':21, transform:'rotate(-90 '+yx+' '+yy+')'}, g);
  yl.textContent = 'log-fold-change';
  
  

  const ti = mk('text', {x:ox+(BL+BR)/2, y:oy+35, 'text-anchor':'middle', 'font-size':26, 'font-weight':'bold'}, g);
  ti.textContent = titles[p];
  
  

  const lg = mk('g', {}, g);
  
  
  mk('rect', {x:ox+LGX, y:oy+BT, width:BR-LGX, height:91, fill:'#fff', stroke:'#000','stroke-width':2}, lg);
  const cols = ['#000','#ff0000','#0000ff'];
  legendLabels.forEach((lab,i) => {
    const ly = oy + 73 + i*23;
    const ent = mk('g', {}, lg);
    
    
    if (i===0) mk('rect', {x:ox+LGX+17, y:ly-1, width:2, height:2, fill:cols[i]}, ent);
    else mk('circle', {cx:ox+LGX+18, cy:ly, r:2.3, fill:cols[i]}, ent);
    const tx = mk('text', {x:ox+LGX+36, y:ly+7, 'font-size':19}, ent);
    tx.textContent = lab;
  });
}
</script>
</body></html>
